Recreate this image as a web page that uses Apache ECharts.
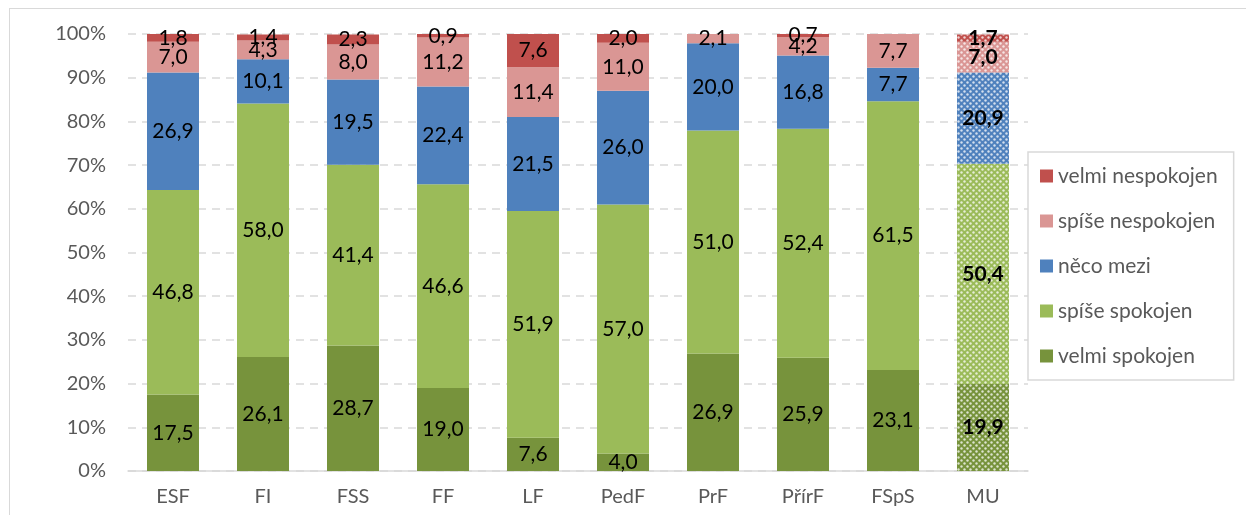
<!DOCTYPE html>
<html>
<head>
<meta charset="utf-8">
<script src="https://cdn.jsdelivr.net/npm/echarts@6/dist/echarts.min.js"></script>
<style>
  html, body { margin: 0; padding: 0; background: #fff; }
  #frame { position: absolute; left: 9px; top: 8px; width: 1250px; height: 520px; border: 1px solid #D9D9D9; }
  #chart { position: absolute; left: 0; top: 0; width: 1246px; height: 515px; }
</style>
</head>
<body>
<div id="frame"></div>
<div id="chart"></div>
<script>
// fakulty
const categories = ['ESF', 'FI', 'FSS', 'FF', 'LF', 'PedF', 'PrF', 'PřírF', 'FSpS', 'MU'];

// podíly odpovědí v %
const velmiSpokojen    = [17.5, 26.1, 28.7, 19.0, 7.6, 4.0, 26.9, 25.9, 23.1, 19.9];
const spiseSpokojen    = [46.8, 58.0, 41.4, 46.6, 51.9, 57.0, 51.0, 52.4, 61.5, 50.4];
const necoMezi         = [26.9, 10.1, 19.5, 22.4, 21.5, 26.0, 20.0, 16.8, 7.7, 20.9];
const spiseNespokojen  = [7.0, 4.3, 8.0, 11.2, 11.4, 11.0, 2.1, 4.2, 7.7, 7.0];
const velmiNespokojen  = [1.8, 1.4, 2.3, 0.9, 7.6, 2.0, 0, 0.7, 0, 1.7];

const yTicks = [0, 10, 20, 30, 40, 50, 60, 70, 80, 90, 100];

const seriesDef = [
  { name: 'velmi spokojen', data: velmiSpokojen, color: '#77933C' },
  { name: 'spíše spokojen', data: spiseSpokojen, color: '#9BBB59' },
  { name: 'něco mezi', data: necoMezi, color: '#4F81BD' },
  { name: 'spíše nespokojen', data: spiseNespokojen, color: '#DA9694' },
  { name: 'velmi nespokojen', data: velmiNespokojen, color: '#C0504D' }
];

const FONT = 'Lato';
const lastIdx = categories.length - 1;

let myChart = echarts.init(document.getElementById('chart'));

myChart.setOption({
  animation: false,
  textStyle: { fontFamily: FONT },
  grid: { left: 128, right: 218, top: 34, bottom: 44 },
  legend: {
    orient: 'vertical',
    left: 1028,
    top: 152,
    width: 200,
    padding: [13, 16, 13, 12],
    itemGap: 23,
    itemWidth: 13,
    itemHeight: 13,
    icon: 'rect',
    borderColor: '#D9D9D9',
    borderWidth: 1.5,
    textStyle: { fontSize: 21, lineHeight: 22, color: '#595959', fontFamily: FONT },
    data: ['velmi nespokojen', 'spíše nespokojen', 'něco mezi', 'spíše spokojen', 'velmi spokojen']
  },
  xAxis: {
    type: 'category',
    data: categories,
    axisTick: { show: false },
    axisLine: { lineStyle: { color: '#D9D9D9', width: 1.5 } },
    axisLabel: { fontSize: 20, color: '#595959', margin: 16, fontFamily: FONT }
  },
  yAxis: {
    type: 'value',
    min: yTicks[0],
    max: yTicks[yTicks.length - 1],
    interval: 10,
    axisLine: { show: false },
    axisTick: { show: false },
    axisLabel: { fontSize: 20, color: '#595959', margin: 22, formatter: '{value}%', fontFamily: FONT },
    splitLine: { lineStyle: { color: '#D9D9D9', type: [8, 6], width: 1.5 } }
  },
  series: seriesDef.map(s => ({
    name: s.name,
    type: 'bar',
    stack: 'total',
    barWidth: 52,
    itemStyle: { color: s.color },
    label: {
      show: true,
      position: 'inside',
      color: '#000',
      fontSize: 21,
      fontFamily: FONT,
      formatter: p => p.value === 0 ? '' : p.value.toFixed(1).replace('.', ',')
    },
    data: s.data.map((v, i) => i === lastIdx ? {
      value: v,
      itemStyle: {
        color: s.color,
        decal: {
          symbol: 'circle',
          color: 'rgba(255,255,255,0.75)',
          symbolSize: 0.8,
          dashArrayX: [[3, 3], [0, 3, 3, 0]],
          dashArrayY: [3, 0],
          rotation: 0
        }
      },
      label: { fontWeight: 'bold' }
    } : v)
  }))
});
</script>
</body>
</html>
